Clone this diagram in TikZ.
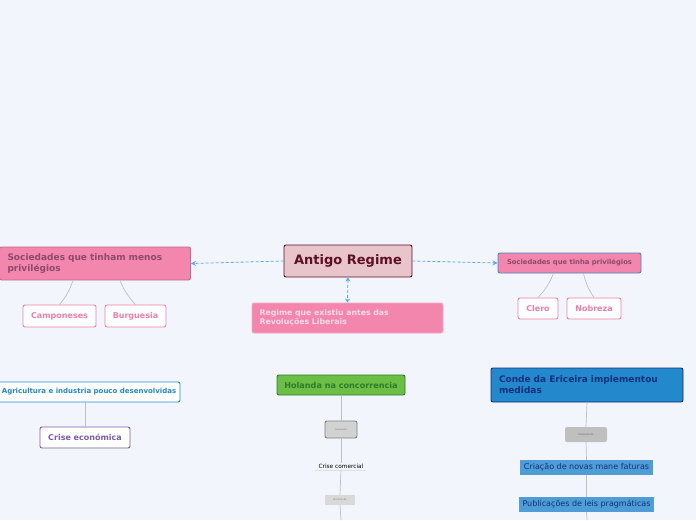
\documentclass[tikz,border=0pt]{standalone}
\usepackage{fontspec}
\setmainfont{DejaVu Sans}
\usepackage{xcolor}
\usetikzlibrary{arrows.meta, positioning, calc}

\definecolor{bgcol}{HTML}{F3F5FD}
\definecolor{rosefill}{HTML}{F386AC}
\definecolor{rosetext}{HTML}{8C4A6C}
\definecolor{rootfill}{HTML}{E8C5CB}
\definecolor{rootline}{HTML}{5C0F25}
\definecolor{linkblue}{HTML}{5AA8EE}
\definecolor{pinkline}{HTML}{EE7FA8}
\definecolor{greenfill}{HTML}{6CBE45}
\definecolor{greentext}{HTML}{2E7A2E}
\definecolor{bluefill}{HTML}{2388CC}
\definecolor{navytext}{HTML}{13317A}
\definecolor{lightblue}{HTML}{4E9DD6}
\definecolor{violet}{HTML}{7A5DA8}

\begin{document}
\begin{tikzpicture}[x=1pt, y=-1pt,
    topic/.style={rectangle, draw, line width=0.9pt, rounded corners=2pt, inner sep=0pt, font=\bfseries},
    sub/.style={rectangle, draw=pinkline, line width=0.9pt, fill=white, rounded corners=2pt, inner sep=0pt, font=\bfseries\fontsize{8}{10}\selectfont, text=pinkline},
    link/.style={dash pattern=on 3pt off 2pt, linkblue, line width=0.8pt},
    branch/.style={gray!50, line width=0.7pt}
]
    \fill[bgcol] (0,0) rectangle (696,520);
    \useasboundingbox (0,0) rectangle (696,520);

    % CENTRE
    \node (root) [topic, fill=rootfill, draw=rootline, text=rootline, minimum width=128pt, minimum height=32pt, font=\bfseries\fontsize{13}{15}\selectfont] at (348,261) {Antigo Regime};
    \node (menos) [topic, fill=rosefill, draw=rosefill!80!black, text=rosetext, minimum width=191pt, minimum height=33pt, align=left, text width=175pt, font=\bfseries\fontsize{9}{11}\selectfont] at (95,263.5) {Sociedades que tinham menos\\privilégios};
    \node (mais) [topic, fill=rosefill, draw=linkblue!80!black, text=rosetext, minimum width=143pt, minimum height=20pt, font=\bfseries\fontsize{6.8}{8}\selectfont] at (569.5,263) {Sociedades que tinha privilégios};
    \node (antes) [topic, fill=rosefill, draw=rosefill!70!white, text=rosefill!30!white, minimum width=191pt, minimum height=30pt, align=left, text width=176pt, font=\bfseries\fontsize{7.8}{9.3}\selectfont] at (347.5,318) {Regime que existiu antes das\\Revoluções Liberais};

    \draw[link, -{Stealth[length=5pt, width=5pt]}] (root.west) -- (menos.east);
    \draw[link, -{Stealth[length=5pt, width=5pt]}] (root.east) -- (mais.west);
    \draw[link, {Stealth[length=4pt, width=5pt]}-{Stealth[length=4pt, width=5pt]}] (root.south) -- (antes.north);

    % PRIVILEGES
    \node (campo) [sub, minimum width=73pt, minimum height=22pt] at (59.5,316) {Camponeses};
    \node (burg) [sub, minimum width=61pt, minimum height=22pt] at (135.5,316) {Burguesia};
    \node (clero) [sub, minimum width=40pt, minimum height=21pt] at (538,308.5) {Clero};
    \node (nobre) [sub, minimum width=54pt, minimum height=21pt] at (594,308.5) {Nobreza};
    \draw[branch] ([xshift=-22pt]menos.south) to[bend left=10] (campo.north);
    \draw[branch] ([xshift=25pt]menos.south) to[bend right=10] (burg.north);
    \draw[branch] ([xshift=-16pt]mais.south) to[bend left=10] (clero.north);
    \draw[branch] ([xshift=14pt]mais.south) to[bend right=10] (nobre.north);

    % ECONOMY
    \node (agri) [topic, fill=white, draw=bluefill, text=bluefill, minimum width=182pt, minimum height=20pt, font=\bfseries\fontsize{7}{8}\selectfont] at (89,392) {Agricultura e industria pouco desenvolvidas};
    \node (crise) [topic, fill=white, draw=violet, text=violet, minimum width=90pt, minimum height=21pt, font=\bfseries\fontsize{8}{10}\selectfont] at (85,437.5) {Crise económica};
    \draw[branch] (agri.south -| crise) -- (crise.north);

    % HOLANDA
    \node (holanda) [topic, fill=greenfill, draw=greentext, text=greentext, minimum width=128pt, minimum height=20pt, font=\bfseries\fontsize{8.1}{10}\selectfont] at (341,385) {Holanda na concorrencia};
    \node (causa) [rectangle, draw=gray, line width=0.9pt, fill=gray!35, rounded corners=2pt, minimum width=32pt, minimum height=17pt, inner sep=0pt, font=\fontsize{2.5}{3}\selectfont, text=gray] at (341,429.5) {causaram};
    \node (comercial) [inner sep=1pt, font=\fontsize{5.8}{6.5}\selectfont] at (341,466.5) {Crise comercial};
    \node (dimin) [rectangle, fill=gray!30, minimum width=30pt, minimum height=10pt, inner sep=0pt, font=\fontsize{2.5}{3}\selectfont, text=gray] at (340,500) {diminuição};
    \coordinate (hend) at (341,520);
    \draw[branch] (holanda.south) -- (causa.north);
    \draw[branch] (causa.south) -- (comercial.north);
    \draw[gray!25, line width=0.7pt] ([xshift=-26pt]comercial.south) -- ([xshift=25pt]comercial.south);
    \draw[branch] (comercial.south) -- (dimin.north);
    \draw[branch] (dimin.south) -- (hend);

    % ERICEIRA
    \node (conde) [topic, fill=bluefill, draw=navytext, text=navytext, minimum width=192pt, minimum height=34pt, align=left, text width=176pt, font=\bfseries\fontsize{9}{11}\selectfont] at (587,385) {Conde da Ericeira implementou\\medidas};
    \node (destac) [rectangle, fill=gray!50, rounded corners=2pt, minimum width=42pt, minimum height=15pt, inner sep=0pt, font=\fontsize{2.5}{3}\selectfont, text=gray!80!black] at (586,434.5) {Destacando};
    \node (criacao) [rectangle, fill=lightblue, minimum width=133pt, minimum height=15pt, inner sep=0pt, font=\fontsize{8}{9}\selectfont, text=navytext] at (586.5,467.5) {Criação de novas mane faturas};
    \node (public) [rectangle, fill=lightblue, minimum width=135pt, minimum height=15pt, inner sep=0pt, font=\fontsize{8}{9}\selectfont, text=navytext] at (586.5,504.5) {Publicações de leis pragmáticas};
    \coordinate (cend) at (587,520);
    \draw[branch] (conde.south) -- (destac.north);
    \draw[branch] (destac.south) -- (criacao.north);
    \draw[branch] (criacao.south) -- (public.north);
    \draw[branch] (public.south) -- (cend);
\end{tikzpicture}
\end{document}
